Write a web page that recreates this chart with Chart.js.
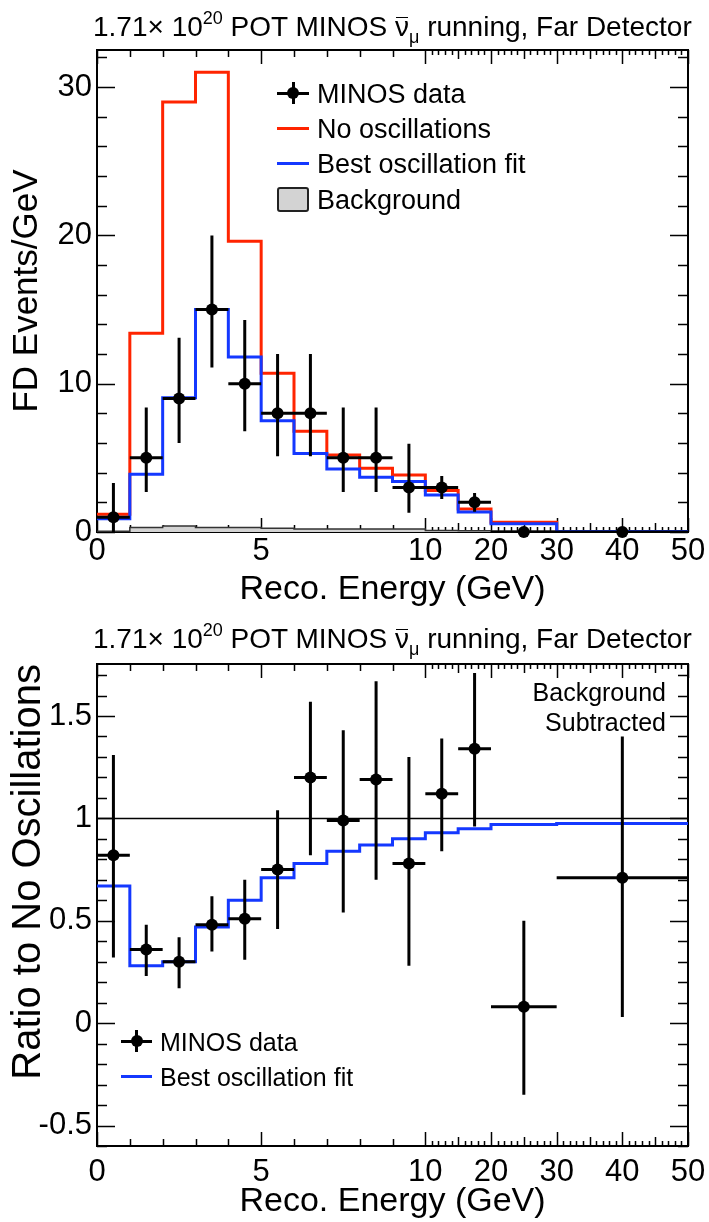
<!DOCTYPE html>
<html>
<head>
<meta charset="utf-8">
<title>MINOS antineutrino running, Far Detector</title>
<script src="https://cdn.jsdelivr.net/npm/chart.js@4.4.1/dist/chart.umd.min.js"></script>
<style>
  body { margin: 0; background: #fff; }
  #page { position: relative; width: 709px; height: 1222px; overflow: hidden;
          font-family: "Liberation Sans", Arial, Helvetica, sans-serif; color: #000; }
  canvas { position: absolute; left: 0; }
  #topCanvas { top: 0; }
  #bottomCanvas { top: 610px; }
  .runtitle { position: absolute; left: 93px; font-size: 28px; line-height: 30px; white-space: nowrap; }
  .runtitle sup, .runtitle sub { font-size: 18px; line-height: 0; vertical-align: baseline; position: relative; }
  .runtitle sup { top: -12px; }
  .runtitle sub { top: 7px; }
  .nubar { position: relative; }
  .nubar::before { content: ""; position: absolute; left: 1px; right: 1px; top: 0.2em; border-top: 1.5px solid #000; }
  .row { position: absolute; white-space: nowrap; line-height: 30px; }
  .sym { position: absolute; }
  .note { position: absolute; right: 43px; top: 677px; font-size: 25px; line-height: 30px; text-align: right; }
</style>
</head>
<body>
<div id="page">
  <canvas id="topCanvas" width="709" height="610"></canvas>
  <canvas id="bottomCanvas" width="709" height="612"></canvas>

  <div class="runtitle" style="top:12px">1.71× 10<sup>20</sup> POT MINOS <span class="nubar">ν</span><sub>μ</sub> running, Far Detector</div>
  <div class="runtitle" style="top:624px">1.71× 10<sup>20</sup> POT MINOS <span class="nubar">ν</span><sub>μ</sub> running, Far Detector</div>

  <div id="topLegend"></div>
  <div id="bottomLegend"></div>
  <div class="note">Background<br>Subtracted</div>
</div>

<script>
// bins in reconstructed energy (GeV)
const binEdges = [0, 1, 2, 3, 4, 5, 6, 7, 8, 9, 10, 15, 20, 30, 50];
const binCenters = [0.5, 1.5, 2.5, 3.5, 4.5, 5.5, 6.5, 7.5, 8.5, 9.5, 12.5, 17.5, 25, 40];
const xTickLabels = [0, 5, 10, 20, 30, 40, 50];

// top panel: FD events / GeV
const dataRate    = [1.0, 5.0, 9.0, 15.0, 10.0, 8.0, 8.0, 5.0, 5.0, 3.0, 3.0, 2.0, 0, 0];
const dataHigh    = [3.3, 8.4, 13.1, 20.0, 14.3, 12.0, 12.0, 8.4, 8.4, 5.95, 3.77, 2.63, 0, 0];
const dataLow     = [0.0, 2.7, 6.0, 11.1, 6.8, 5.1, 5.1, 2.7, 2.7, 1.3, 2.23, 1.37, 0, 0];
const noOscRate   = [1.2, 13.4, 29.0, 31.0, 19.6, 10.7, 6.8, 5.2, 4.3, 3.85, 2.8, 1.55, 0.65, 0.03];
const bestFitRate = [0.9, 3.9, 9.05, 15.0, 11.8, 7.5, 5.3, 4.25, 3.7, 3.4, 2.5, 1.35, 0.55, 0.03];
const bkgRate     = [0.05, 0.3, 0.4, 0.3, 0.3, 0.25, 0.2, 0.2, 0.2, 0.2, 0.1, 0.08, 0.05, 0.02];

// bottom panel: ratio to no oscillations (background subtracted)
const ratioData = [0.82, 0.36, 0.30, 0.48, 0.51, 0.75, 1.20, 0.99, 1.19, 0.78, 1.12, 1.34, 0.08, 0.71];
const ratioHigh = [1.31, 0.48, 0.42, 0.62, 0.70, 1.04, 1.57, 1.43, 1.67, 1.30, 1.39, 1.71, 0.50, 1.40];
const ratioLow  = [0.32, 0.23, 0.17, 0.35, 0.31, 0.46, 0.82, 0.54, 0.70, 0.28, 0.84, 0.96, -0.35, 0.03];
const ratioFit  = [0.67, 0.28, 0.30, 0.47, 0.60, 0.71, 0.78, 0.84, 0.87, 0.90, 0.93, 0.95, 0.97, 0.975];
const ratioUnity = 1;

const fontFamily = '"Liberation Sans", Arial, Helvetica, sans-serif';
const RED = '#ff2400';
const BLUE = '#1438ff';

// x axis is linear up to 10 GeV, then compressed by 5 up to 50 GeV
function toAxis(e) { return e <= 10 ? e : 10 + (e - 10) / 5; }
function fromAxis(u) { return u <= 10 ? u : 10 + (u - 10) * 5; }
const xMax = toAxis(binEdges[binEdges.length - 1]);

// step histogram: one point per left edge plus the last right edge
function histPoints(values) {
  const pts = values.map((v, i) => ({ x: toAxis(binEdges[i]), y: v }));
  pts.push({ x: xMax, y: values[values.length - 1] });
  return pts;
}

// error bars as separate segments (gaps from null y)
function errorPoints(values, low, high) {
  const pts = [];
  binCenters.forEach((c, i) => {
    const x = toAxis(c);
    pts.push({ x: x, y: low[i] }, { x: x, y: high[i] }, { x: x, y: null });
    pts.push({ x: toAxis(binEdges[i]), y: values[i] }, { x: toAxis(binEdges[i + 1]), y: values[i] }, { x: x, y: null });
  });
  return pts;
}

function markerPoints(values) {
  return binCenters.map((c, i) => ({ x: toAxis(c), y: values[i] }));
}

// frame plus inward ticks on all four sides, like ROOT
const frameAndTicks = {
  id: 'frameAndTicks',
  beforeDatasetsDraw(chart, args, opts) {
    const { ctx, chartArea: a } = chart;
    const xs = chart.scales.x, ys = chart.scales.y;
    ctx.save();
    ctx.strokeStyle = '#000';
    ctx.lineWidth = 1.5;
    ctx.beginPath();
    for (let e = 0; e <= 50; e++) {
      let len;
      if (e <= 10) len = e % 5 === 0 ? 14 : 7;
      else len = e % 10 === 0 ? 14 : (e % 5 === 0 ? 9 : 5);
      const px = Math.round(xs.getPixelForValue(toAxis(e))) + 0.5;
      ctx.moveTo(px, a.bottom); ctx.lineTo(px, a.bottom - len);
      ctx.moveTo(px, a.top); ctx.lineTo(px, a.top + len);
    }
    const k0 = Math.ceil(ys.min / opts.minor - 1e-6);
    const k1 = Math.floor(ys.max / opts.minor + 1e-6);
    for (let k = k0; k <= k1; k++) {
      const v = k * opts.minor;
      const r = v / opts.major;
      const len = Math.abs(r - Math.round(r)) < 1e-6 ? 18 : 10;
      const py = Math.round(ys.getPixelForValue(v)) + 0.5;
      ctx.moveTo(a.left, py); ctx.lineTo(a.left + len, py);
      ctx.moveTo(a.right, py); ctx.lineTo(a.right - len, py);
    }
    ctx.stroke();
    ctx.lineWidth = 2;
    ctx.strokeRect(a.left, a.top, a.right - a.left, a.bottom - a.top);
    ctx.restore();
  }
};

function buildPanel(canvas, cfg) {
  return new Chart(canvas, {
    type: 'line',
    data: { datasets: cfg.datasets },
    options: {
      responsive: false,
      animation: false,
      events: [],
      layout: { padding: cfg.padding },
      elements: { point: { radius: 0 }, line: { tension: 0 } },
      plugins: {
        legend: { display: false },
        tooltip: { enabled: false },
        frameAndTicks: cfg.ticks
      },
      scales: {
        x: {
          type: 'linear',
          min: 0,
          max: xMax,
          // invisible tick marks only push the labels down
          grid: { display: true, drawOnChartArea: false, drawTicks: true, tickLength: cfg.xPad, tickColor: 'rgba(0,0,0,0)' },
          border: { display: false },
          afterBuildTicks: (s) => { s.ticks = xTickLabels.map((e) => ({ value: toAxis(e) })); },
          afterFit: (s) => { s.height = cfg.xHeight; },
          ticks: {
            color: '#000',
            font: { family: fontFamily, size: 31 },
            padding: 0,
            maxRotation: 0,
            autoSkip: false,
            callback: (v) => String(Math.round(fromAxis(v)))
          },
          title: {
            display: true,
            text: 'Reco. Energy (GeV)',
            color: '#000',
            font: { family: fontFamily, size: 34 },
            padding: { top: 0, bottom: cfg.xTitlePad }
          }
        },
        y: {
          type: 'linear',
          min: cfg.yMin,
          max: cfg.yMax,
          grid: { display: false, drawTicks: false },
          border: { display: false },
          afterFit: (s) => { s.width = 97; },
          ticks: {
            color: '#000',
            font: { family: fontFamily, size: 31 },
            padding: 5,
            stepSize: cfg.ticks.major,
            includeBounds: false,
            callback: (v) => String(Math.round(v * 10) / 10)
          },
          title: {
            display: true,
            text: cfg.yTitle,
            align: cfg.yTitleAlign,
            color: '#000',
            font: { family: fontFamily, size: cfg.yTitleSize },
            padding: { top: cfg.yTitlePad, bottom: 0 }
          }
        }
      }
    },
    plugins: [frameAndTicks]
  });
}

const errStyle = { borderColor: '#000', borderWidth: 3, pointRadius: 0, spanGaps: false, fill: false };
const dotStyle = { showLine: false, pointRadius: 6, pointBackgroundColor: '#000', pointBorderWidth: 0, clip: false };

buildPanel(document.getElementById('topCanvas'), {
  padding: { top: 50, right: 21, left: 0, bottom: 0 },
  xHeight: 78, xPad: 1, xTitlePad: 0,
  yMin: 0, yMax: 32.5,
  yTitle: 'FD Events/GeV', yTitleAlign: 'center', yTitleSize: 35, yTitlePad: 6,
  ticks: { major: 10, minor: 2 },
  datasets: [
    { label: 'Background', data: histPoints(bkgRate), stepped: 'before', borderColor: '#333', borderWidth: 1.5,
      backgroundColor: '#d3d3d3', fill: 'origin', order: 5 },
    { label: 'No oscillations', data: histPoints(noOscRate), stepped: 'before', borderColor: RED, borderWidth: 3, fill: false, order: 4 },
    { label: 'Best oscillation fit', data: histPoints(bestFitRate), stepped: 'before', borderColor: BLUE, borderWidth: 3, fill: false, order: 3 },
    Object.assign({ label: 'MINOS data errors', data: errorPoints(dataRate, dataLow, dataHigh), order: 2 }, errStyle),
    Object.assign({ label: 'MINOS data', data: markerPoints(dataRate), order: 1 }, dotStyle)
  ]
});

buildPanel(document.getElementById('bottomCanvas'), {
  padding: { top: 54, right: 21, left: 0, bottom: 0 },
  xHeight: 76, xPad: 8, xTitlePad: 0,
  yMin: -0.6, yMax: 1.754,
  yTitle: 'Ratio to No Oscillations', yTitleAlign: 'end', yTitleSize: 40, yTitlePad: 5,
  ticks: { major: 0.5, minor: 0.1 },
  datasets: [
    { label: 'unity', data: [{ x: 0, y: ratioUnity }, { x: xMax, y: ratioUnity }], borderColor: '#000', borderWidth: 1.5, fill: false, order: 4 },
    { label: 'Best oscillation fit', data: histPoints(ratioFit), stepped: 'before', borderColor: BLUE, borderWidth: 3, fill: false, order: 3 },
    Object.assign({ label: 'MINOS data errors', data: errorPoints(ratioData, ratioLow, ratioHigh), order: 2 }, errStyle),
    Object.assign({ label: 'MINOS data', data: markerPoints(ratioData), order: 1 }, dotStyle)
  ]
});

// legends as html text
function addRow(parent, cfg) {
  const row = document.createElement('div');
  row.className = 'row';
  row.style.left = cfg.textX + 'px';
  row.style.top = (cfg.yc - 14.5) + 'px';
  row.style.fontSize = cfg.size + 'px';
  row.textContent = cfg.text;
  parent.appendChild(row);

  const w = cfg.symW;
  const add = (css) => {
    const d = document.createElement('div');
    d.className = 'sym';
    Object.assign(d.style, css);
    parent.appendChild(d);
  };
  if (cfg.kind === 'data') {
    add({ left: cfg.symX + 'px', top: (cfg.yc - 1.5) + 'px', width: w + 'px', height: '3px', background: '#000' });
    add({ left: (cfg.symX + w / 2 - 1.5) + 'px', top: (cfg.yc - 11) + 'px', width: '3px', height: '22px', background: '#000' });
    add({ left: (cfg.symX + w / 2 - 6) + 'px', top: (cfg.yc - 6) + 'px', width: '12px', height: '12px', borderRadius: '50%', background: '#000' });
  } else if (cfg.kind === 'box') {
    add({ left: cfg.symX + 'px', top: (cfg.yc - 12.5) + 'px', width: (w - 4) + 'px', height: '21px', background: '#d3d3d3',
          border: '2px solid #222', borderRadius: '3px' });
  } else {
    add({ left: cfg.symX + 'px', top: (cfg.yc - 1.5) + 'px', width: w + 'px', height: '3px', background: cfg.color });
  }
}

const topLegend = document.getElementById('topLegend');
addRow(topLegend, { text: 'MINOS data', kind: 'data', yc: 93, symX: 277, symW: 32, textX: 317, size: 27 });
addRow(topLegend, { text: 'No oscillations', kind: 'line', color: RED, yc: 128, symX: 277, symW: 32, textX: 317, size: 27 });
addRow(topLegend, { text: 'Best oscillation fit', kind: 'line', color: BLUE, yc: 163, symX: 277, symW: 32, textX: 317, size: 27 });
addRow(topLegend, { text: 'Background', kind: 'box', yc: 199, symX: 277, symW: 32, textX: 317, size: 27 });

const bottomLegend = document.getElementById('bottomLegend');
addRow(bottomLegend, { text: 'MINOS data', kind: 'data', yc: 1041, symX: 121, symW: 31, textX: 160, size: 25 });
addRow(bottomLegend, { text: 'Best oscillation fit', kind: 'line', color: BLUE, yc: 1076, symX: 121, symW: 31, textX: 160, size: 25 });
</script>
</body>
</html>
